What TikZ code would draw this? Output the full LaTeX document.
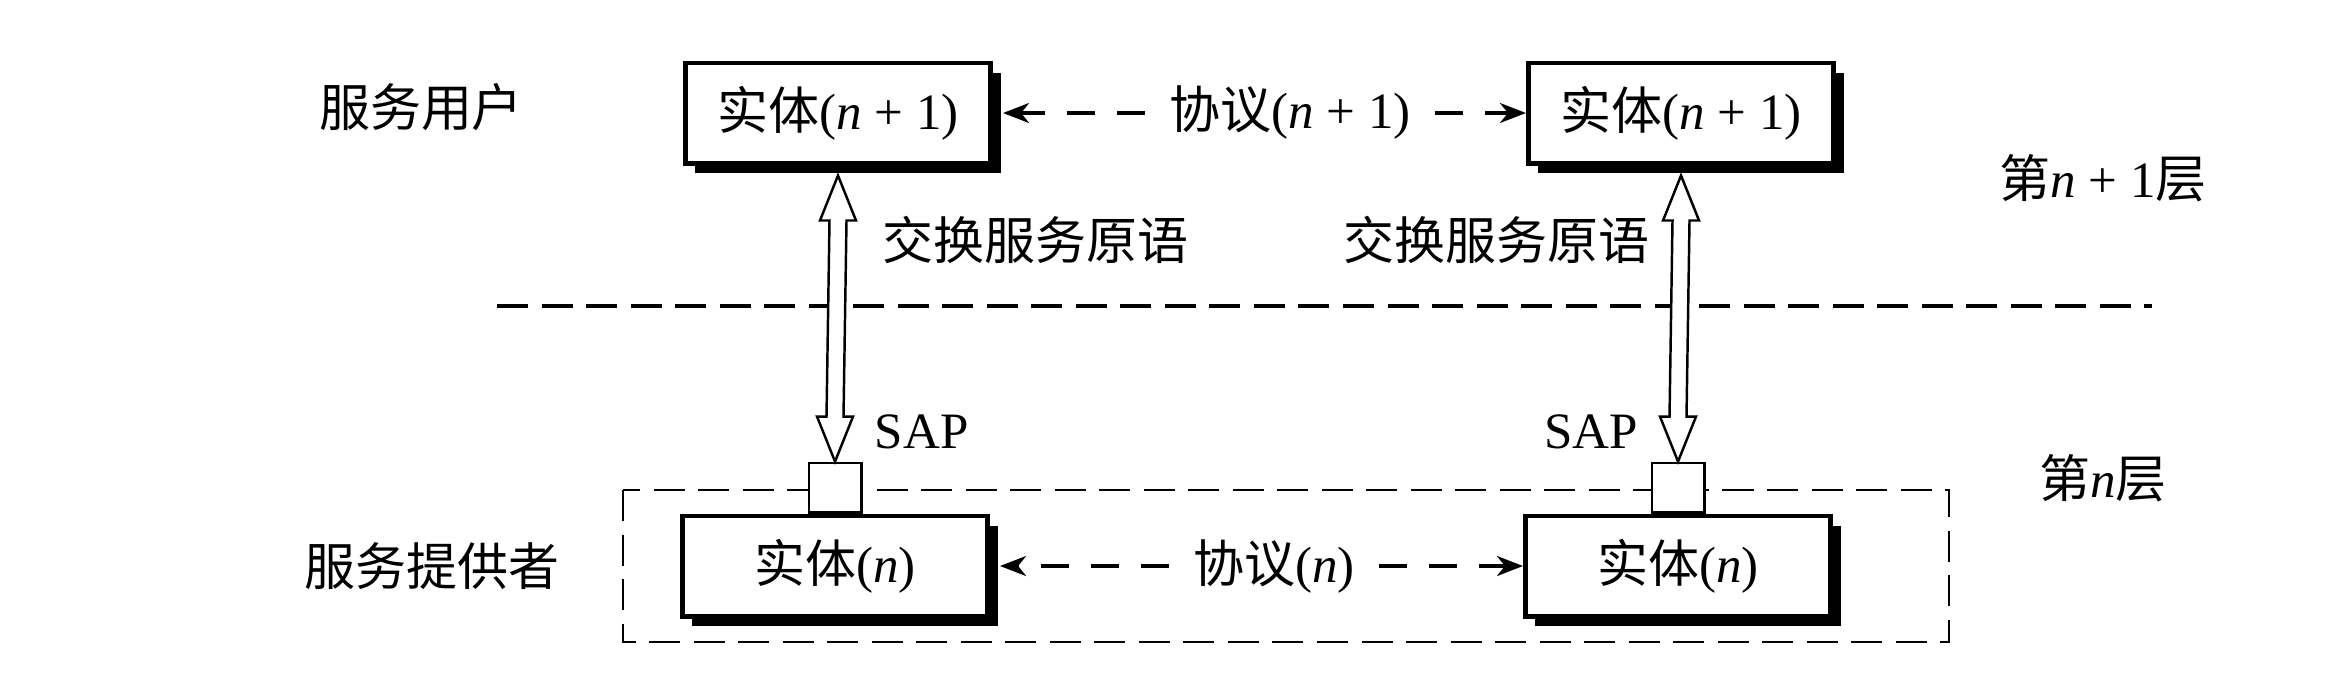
\documentclass[tikz,border=0pt]{standalone}
\usepackage{fontspec}
\setmainfont{Liberation Serif}
\newfontfamily\cjk{Noto Sans CJK SC}
\usepackage{tikz}
\usetikzlibrary{calc, shadows, arrows.meta, positioning}

\tikzset{
    entity/.style={draw, fill=white, line width=1.4pt, inner sep=0pt,
        minimum width=3.05cm, minimum height=1.0cm,
        drop shadow={shadow xshift=0.1cm, shadow yshift=-0.1cm, fill=black, opacity=1}},
    sapbox/.style={draw, fill=white, line width=0.7pt, inner sep=0pt,
        minimum width=0.525cm, minimum height=0.495cm},
    proto/.style={line width=0.9pt, dash pattern=on 0.28cm off 0.22cm, shorten <=0.12cm,
        -{Stealth[length=0.26cm, width=0.2cm, inset=0.08cm]}},
    layerline/.style={line width=0.9pt, dash pattern=on 0.31cm off 0.135cm},
    hollow/.style={line width=0.7pt, fill=white, line join=miter},
}

% hollow double-headed arrow from #1 (top) to #2 (bottom)
\newcommand{\hollowarrow}[2]{%
    \draw[hollow] (#1) -- ++(-18,45) -- ++(9.5,0) -- ($(#2)+(-8.5,-45)$)
        -- ++(-9.5,0) -- (#2) -- ++(18,-45) -- ++(-9.5,0)
        -- ($(#1)+(8.5,45)$) -- ++(9.5,0) -- cycle;}

\begin{document}
\begin{tikzpicture}[x=0.01cm, y=-0.01cm, font=\fontsize{14.5}{17}\selectfont]
        \useasboundingbox (0,0) rectangle (2352,678);

        % define positions
        \coordinate (upL_C) at (838,113);
        \coordinate (upR_C) at (1681,113);
        \coordinate (lowL_C) at (835,566);
        \coordinate (lowR_C) at (1678,566);

        % layer n box and separator
        \draw[layerline, line width=0.8pt] (623,490) rectangle (1949,642);
        \coordinate (sep_begin) at (497,306);
        \coordinate (sep_end) at (2152,306);
        \draw[layerline] (sep_begin) -- (sep_end);

        % side labels
        \node (user) at (421,107) {\cjk 服务用户};
        \node (provider) at (432,566) {\cjk 服务提供者};
        \node (layerUp) at (2103,178) {{\cjk 第}\textit{n} + 1{\cjk 层}};
        \node (layerLow) at (2103,478) {{\cjk 第}\textit{n}{\cjk 层}};

        % entities
        \node[entity] (upL) at (upL_C) {{\cjk 实体}(\textit{n} + 1)};
        \node[entity] (upR) at (upR_C) {{\cjk 实体}(\textit{n} + 1)};
        \node[entity] (lowL) at (lowL_C) {{\cjk 实体}(\textit{n})};
        \node[entity] (lowR) at (lowR_C) {{\cjk 实体}(\textit{n})};

        % service access points
        \node[sapbox, anchor=south] (sapL) at (lowL.north) {};
        \node[sapbox, anchor=south] (sapR) at (lowR.north) {};
        \node[anchor=south west] (sapLtext) at (sapL.north east) {SAP};
        \node[anchor=south east] (sapRtext) at (sapR.north west) {SAP};

        % protocols
        \node (protoUp) at (1290,113) {{\cjk 协议}(\textit{n} + 1)};
        \node (protoLow) at (1274,566) {{\cjk 协议}(\textit{n})};
        \draw[proto] (protoUp.west) -- ([xshift=0.1cm]upL.east);
        \draw[proto] (protoUp.east) -- (upR.west);
        \draw[proto] (protoLow.west) -- ([xshift=0.1cm]lowL.east);
        \draw[proto] (protoLow.east) -- (lowR.west);

        % service primitives
        \coordinate (primL_top) at ([yshift=-0.1cm]upL.south);
        \coordinate (primR_top) at ([yshift=-0.1cm]upR.south);
        \hollowarrow{primL_top}{sapL.north}
        \hollowarrow{primR_top}{sapR.north}
        \node[anchor=west] (primLtext) at (870,240) {\cjk 交换服务原语};
        \node[anchor=east] (primRtext) at (1662,240) {\cjk 交换服务原语};
\end{tikzpicture}
\end{document}
